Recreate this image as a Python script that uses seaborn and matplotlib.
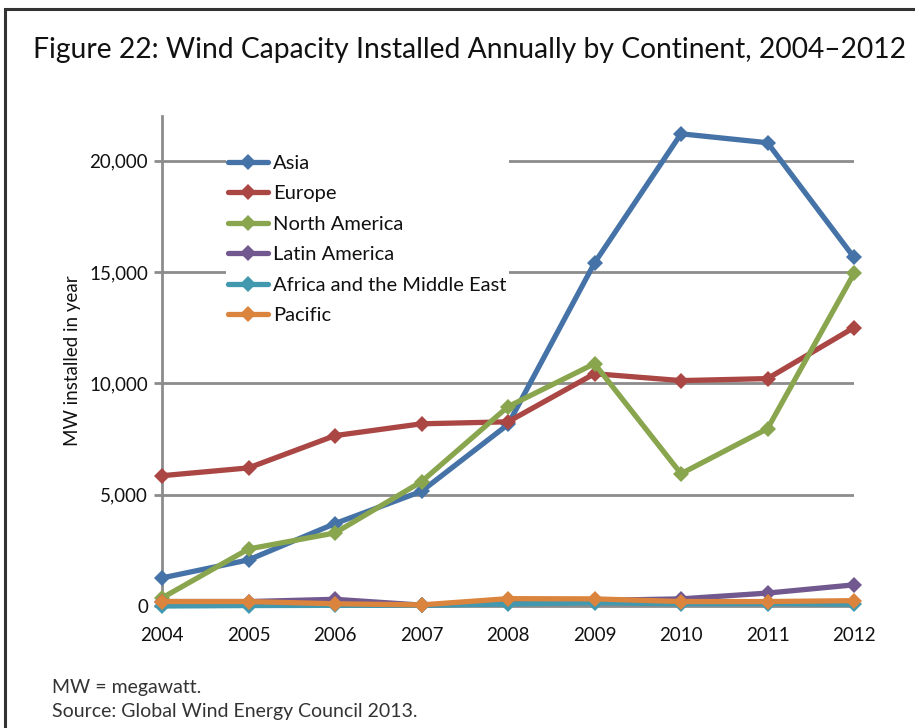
import matplotlib
matplotlib.use("Agg")
import matplotlib.pyplot as plt
import seaborn as sns
import pandas as pd
from matplotlib.patches import Rectangle

years = [2004, 2005, 2006, 2007, 2008, 2009, 2010, 2011, 2012]
asia = [1260, 2070, 3700, 5150, 8150, 15400, 21200, 20800, 15650]
europe = [5850, 6200, 7650, 8180, 8270, 10430, 10120, 10210, 12500]
north_america = [360, 2560, 3280, 5580, 8950, 10880, 5940, 7960, 14930]
latin_america = [200, 200, 300, 40, 150, 250, 320, 580, 950]
africa_me = [0, 20, 30, 30, 90, 150, 100, 110, 80]
pacific = [200, 200, 100, 50, 330, 320, 200, 200, 240]

series_names = ["Asia", "Europe", "North America", "Latin America",
                "Africa and the Middle East", "Pacific"]
series_values = [asia, europe, north_america, latin_america, africa_me, pacific]
colors = ["#4572A7", "#AA4643", "#89A54E", "#71588F", "#4198AF", "#DB843D"]

sns.set_theme(style="white")
plt.rcParams["font.family"] = ["Lato", "DejaVu Sans"]

fig = plt.figure(figsize=(9.15, 7.28), dpi=100)
ax = fig.add_axes([162/915, 1-606/728, (854-162)/915, (606-116)/728])

for name, vals, c in zip(series_names, series_values, colors):
    df = pd.DataFrame({"year": years, "mw": vals})
    sns.lineplot(data=df, x="year", y="mw", ax=ax, color=c, marker="D",
                 markersize=8.5, markeredgewidth=0, linewidth=3.8,
                 label=name, clip_on=False, zorder=3)

ax.set_xlim(2004, 2012)
ax.set_ylim(0, 22000)
ax.set_xticks(years)
ax.set_xticklabels([str(y) for y in years])
ax.set_yticks([0, 5000, 10000, 15000, 20000])
ax.set_yticklabels(["0", "5,000", "10,000", "15,000", "20,000"])
ax.grid(axis="y", color="#8c8c8c", linewidth=2)
ax.grid(axis="x", visible=False)
for s in ["top", "right"]:
    ax.spines[s].set_visible(False)
ax.spines["left"].set_color("#8c8c8c")
ax.spines["left"].set_linewidth(2)
ax.spines["bottom"].set_color("#8c8c8c")
ax.spines["bottom"].set_linewidth(2)
ax.tick_params(axis="y", left=True, length=6, width=2, color="#8c8c8c",
               labelsize=13.5, labelcolor="#111111", pad=4)
ax.tick_params(axis="x", bottom=False, labelsize=13.5, labelcolor="#111111", pad=9)
ax.set_xlabel("")
ax.set_ylabel("MW installed in year", fontsize=13.5, color="#111111", labelpad=6)

leg = ax.legend(loc="upper left", bbox_to_anchor=(226/915, 1-153/728),
                bbox_transform=fig.transFigure, frameon=True, fontsize=14.5,
                handlelength=2.0, handletextpad=0.25, labelspacing=0.66,
                borderpad=0.1, borderaxespad=0)
leg.get_frame().set_facecolor("white")
leg.get_frame().set_edgecolor("none")
leg.get_frame().set_alpha(1)
leg.set_zorder(5)
for t in leg.get_texts():
    t.set_color("#111111")

fig.text(33/915, 1-50/728, "Figure 22: Wind Capacity Installed Annually by Continent, 2004\u20132012",
         fontsize=20.3, color="#111111", va="center", ha="left")
fig.text(52/915, 1-688/728, "MW = megawatt.", fontsize=14, color="#333333", va="center")
fig.text(52/915, 1-711/728, "Source: Global Wind Energy Council 2013.", fontsize=14,
         color="#333333", va="center")

fig.patches.append(Rectangle((5/915, -0.1), 1.2, 1.1 - 9/728, transform=fig.transFigure,
                             fill=False, edgecolor="#333333", linewidth=2.2, zorder=10))

fig.savefig("out.png", dpi=100)
